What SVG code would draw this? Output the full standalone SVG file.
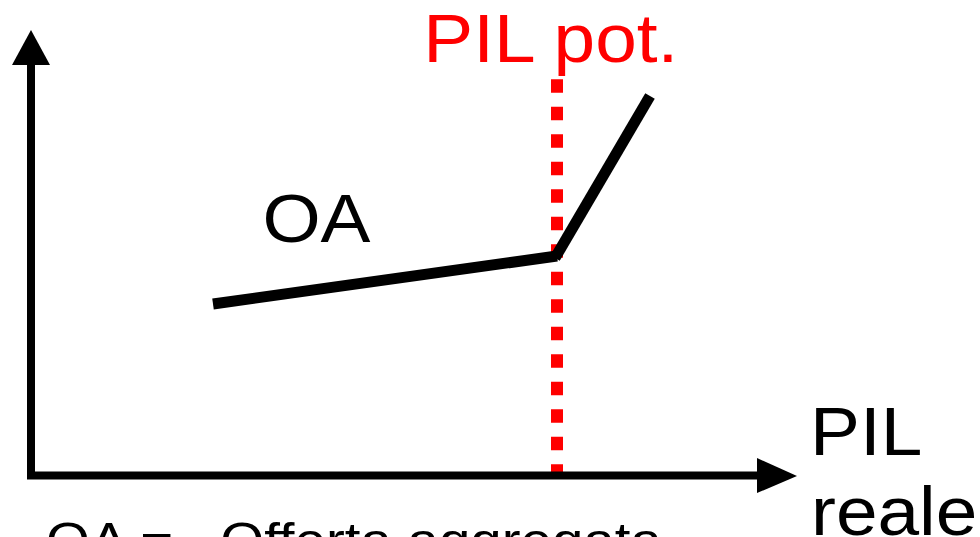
<svg xmlns="http://www.w3.org/2000/svg" width="980" height="537" viewBox="0 0 980 537">
  <style>
    .t { font-family: "Liberation Sans", Arial, sans-serif; font-size: 68px; fill: #000; }
    .red { fill: #ff0000; }
    .ax { stroke: #000; stroke-width: 8; fill: none; }
    .curve { stroke: #000; stroke-width: 11; fill: none; stroke-linecap: butt; }
  </style>
  <rect width="980" height="537" fill="#ffffff"/>
  <g id="pil-pot-line">
    <line x1="557" y1="79.3" x2="557" y2="472" stroke="#ff0000" stroke-width="12" stroke-dasharray="13.5 14"/>
  </g>
  <g id="axes">
    <line class="ax" x1="31" y1="64" x2="31" y2="479"/>
    <polygon points="31,30 12,65 50,65" fill="#000"/>
    <line class="ax" x1="27" y1="475.5" x2="759" y2="475.5"/>
    <polygon points="797,476 757,458 757,493" fill="#000"/>
  </g>
  <g id="oa-curve">
    <line class="curve" x1="213" y1="304" x2="557" y2="256"/>
    <line class="curve" x1="555" y1="258" x2="650" y2="96"/>
  </g>
  <g id="labels">
    <text class="t red" transform="translate(423.3,62) scale(1.1,1)">PIL pot.</text>
    <text class="t" transform="translate(262.4,242) scale(1.1,1)">OA</text>
    <text class="t" transform="translate(810,455) scale(1.1,1)">PIL</text>
    <text class="t" transform="translate(811,535) scale(1.1,1)">reale</text>
    <text class="t" style="font-size:50px; white-space:pre" transform="translate(46,558) scale(1.13,1)">OA =   Offerta aggregata</text>
  </g>
</svg>
